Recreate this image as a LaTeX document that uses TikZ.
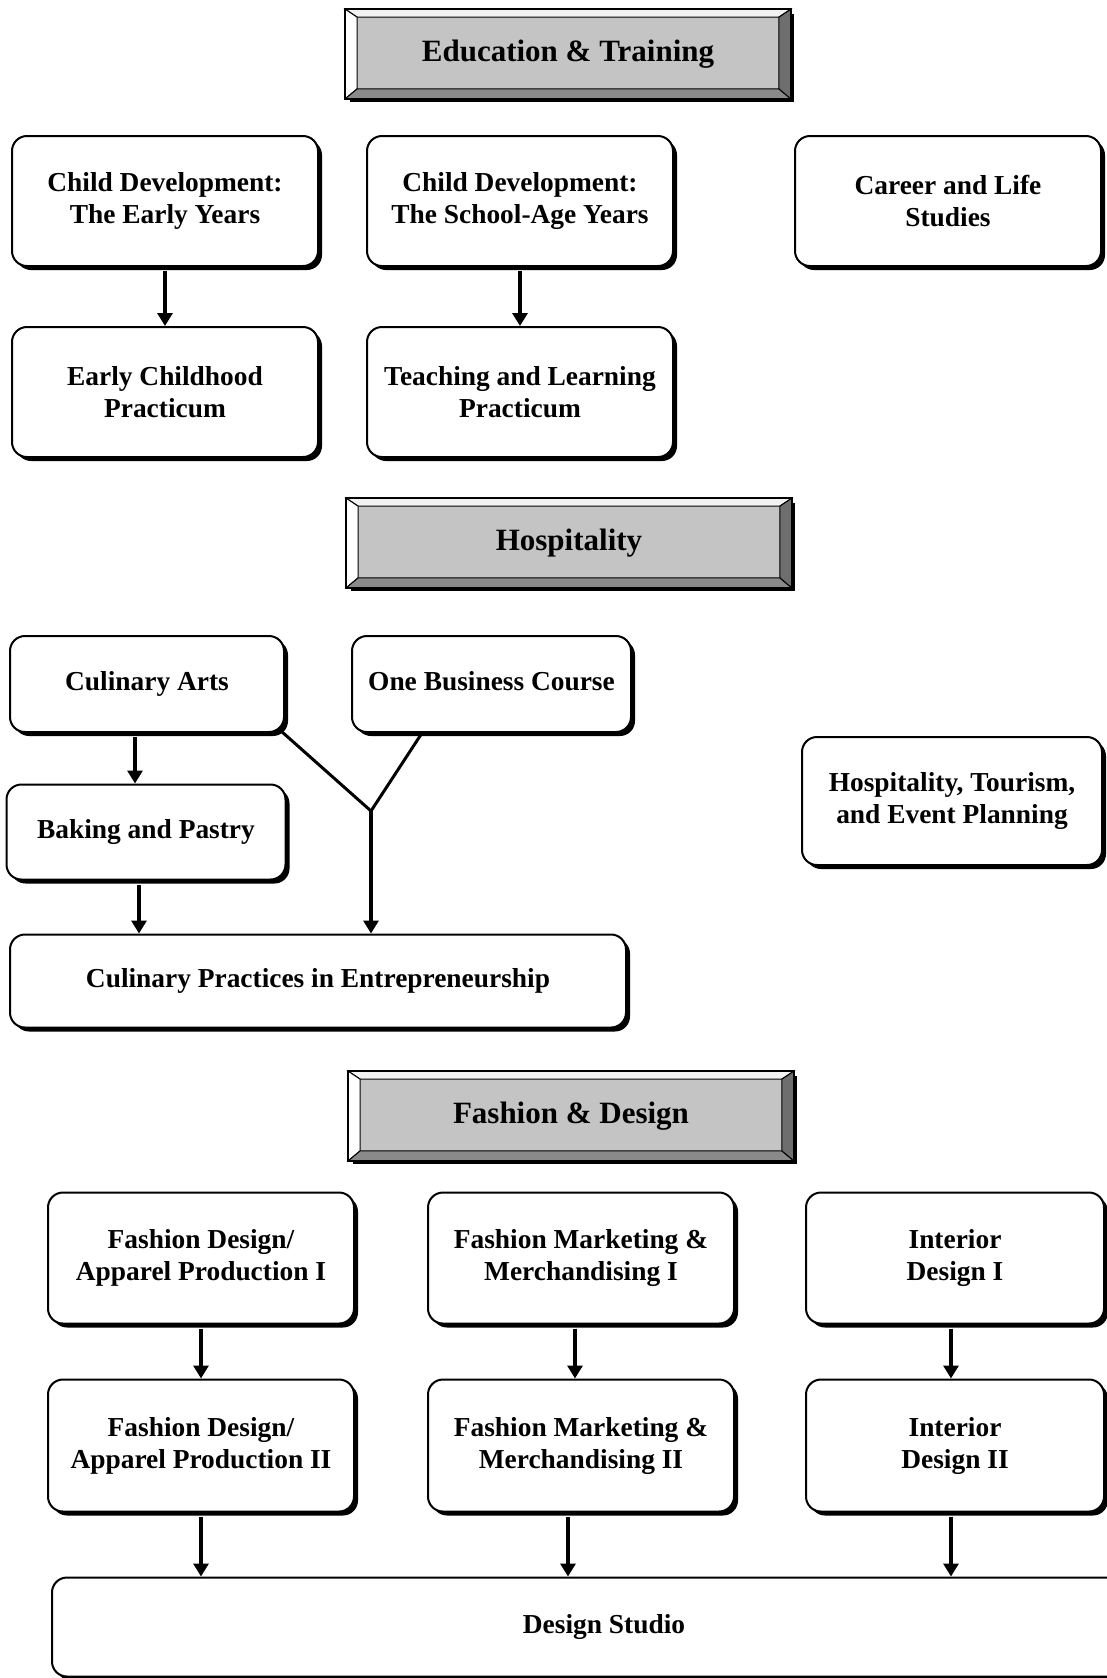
\documentclass[tikz,border=0pt]{standalone}
\usepackage{fontspec}
\setmainfont{Liberation Serif}
\usepackage{tikz}
\usetikzlibrary{arrows.meta,positioning,shadows}
\definecolor{hdface}{HTML}{C4C4C4}
\definecolor{hdlight}{HTML}{F2F2F2}
\definecolor{hdbottom}{HTML}{8A8A8A}
\definecolor{hdright}{HTML}{6E6E6E}

\begin{document}
\begin{tikzpicture}[x=0.5pt,y=-0.5pt,
  course/.style={draw,line width=1pt,rounded corners=7.5pt,fill=white,align=center,
    font=\bfseries\fontsize{13.7}{16}\selectfont,inner sep=2pt,
    minimum width=153pt,minimum height=65pt,
    drop shadow={shadow xshift=2pt,shadow yshift=-2pt,fill=black,opacity=1}},
  header/.style={draw,line width=0.8pt,fill=hdface,minimum width=222pt,minimum height=44pt,
    font=\bfseries\fontsize{15.5}{18}\selectfont,
    drop shadow={shadow xshift=2pt,shadow yshift=-2pt,fill=black,opacity=1}},
  arr/.style={-{Triangle[length=6.5pt,width=7.5pt]},line width=1.6pt,shorten <=2pt},
  link/.style={line width=1.5pt}
]
\clip (0,0) rectangle (1107,1678);
\path[fill=white] (0,0) rectangle (1107,1678);

% Education & Training
\node[header] (hdedu) at (568,54) {Education \& Training};
\node[course] (cde) at (165,201) {Child Development:\\The Early Years};
\node[course,right=23.5pt of cde] (cds) {Child Development:\\The School-Age Years};
\node[course,right=60pt of cds] (cls) {Career and Life\\Studies};
\node[course,below=29.5pt of cde] (ecp) {Early Childhood\\Practicum};
\node[course,below=29.5pt of cds] (tlp) {Teaching and Learning\\Practicum};
\draw[arr] (cde) -- (ecp);
\draw[arr] (cds) -- (tlp);

% Hospitality
\node[header] (hdhosp) at (569,543) {Hospitality};
\node[course,minimum width=137pt,minimum height=48pt] (cul) at (147,684) {Culinary Arts};
\node[course,minimum width=139.5pt,minimum height=48pt,right=33pt of cul] (obc) {One Business Course\strut};
\node[course,minimum width=139.5pt,minimum height=47.5pt] (bak) at (146,832) {Baking and Pastry};
\node[course,minimum width=308pt,minimum height=46.5pt] (cpe) at (318,981) {Culinary Practices in Entrepreneurship};
\node[course,minimum width=150pt,minimum height=64pt] (hte) at (952,801) {Hospitality, Tourism,\\and Event Planning};
\coordinate (merge) at (371,811);
\draw[arr] ([xshift=-6pt]cul.south) -- ([xshift=-6pt]cul.south |- bak.north);
\draw[arr] ([xshift=-3.5pt]bak.south) -- ([xshift=-3.5pt]bak.south |- cpe.north);
\draw[link] ([xshift=-2pt,yshift=1pt]cul.south east) -- (merge);
\draw[link] ([xshift=35.5pt]obc.south west) -- (merge);
\draw[arr,shorten <=0pt] (merge) -- (merge |- cpe.north);

% Fashion & Design
\node[header] (hdfash) at (571,1116) {Fashion \& Design};
\node[course,minimum height=65.5pt] (fd1) at (201,1258) {Fashion Design/\\Apparel Production I};
\node[course,minimum height=65.5pt,right=36pt of fd1] (fm1) {Fashion Marketing \&\\Merchandising I};
\node[course,minimum width=149pt,minimum height=65.5pt,right=35pt of fm1] (id1) {Interior\\Design I};
\node[course,minimum height=66pt,below=27pt of fd1] (fd2) {Fashion Design/\\Apparel Production II};
\node[course,minimum height=66pt,below=27pt of fm1] (fm2) {Fashion Marketing \&\\Merchandising II};
\node[course,minimum width=149pt,minimum height=66pt,below=27pt of id1] (id2) {Interior\\Design II};
\node[course,minimum width=552pt,minimum height=49.5pt] (ds) at (604,1627) {Design Studio};
\draw[arr] (fd1) -- (fd2);
\draw[arr] ([xshift=-3pt]fm1.south) -- ([xshift=-3pt]fm2.north);
\draw[arr] ([xshift=-2pt]id1.south) -- ([xshift=-2pt]id2.north);
\draw[arr] (fd2.south) -- (fd2.south |- ds.north);
\draw[arr] ([xshift=-6.5pt]fm2.south) -- ([xshift=-6.5pt]fm2.south |- ds.north);
\draw[arr] ([xshift=-2pt]id2.south) -- ([xshift=-2pt]id2.south |- ds.north);

% bevelled frames of the headers
\foreach \h in {hdedu,hdhosp,hdfash} {
  \filldraw[fill=hdlight,line width=0.5pt] (\h.north west) -- (\h.north east)
    -- ([shift={(-6pt,-4pt)}]\h.north east) -- ([shift={(6pt,-4pt)}]\h.north west) -- cycle;
  \filldraw[fill=white,line width=0.5pt] (\h.north west) -- ([shift={(6pt,-4pt)}]\h.north west)
    -- ([shift={(6pt,5pt)}]\h.south west) -- (\h.south west) -- cycle;
  \filldraw[fill=hdbottom,line width=0.5pt] (\h.south west) -- ([shift={(6pt,5pt)}]\h.south west)
    -- ([shift={(-6pt,5pt)}]\h.south east) -- (\h.south east) -- cycle;
  \filldraw[fill=hdright,line width=0.5pt] (\h.south east) -- ([shift={(-6pt,5pt)}]\h.south east)
    -- ([shift={(-6pt,-4pt)}]\h.north east) -- (\h.north east) -- cycle;
  \draw[line width=0.8pt] (\h.north west) rectangle (\h.south east);
}
\end{tikzpicture}
\end{document}
